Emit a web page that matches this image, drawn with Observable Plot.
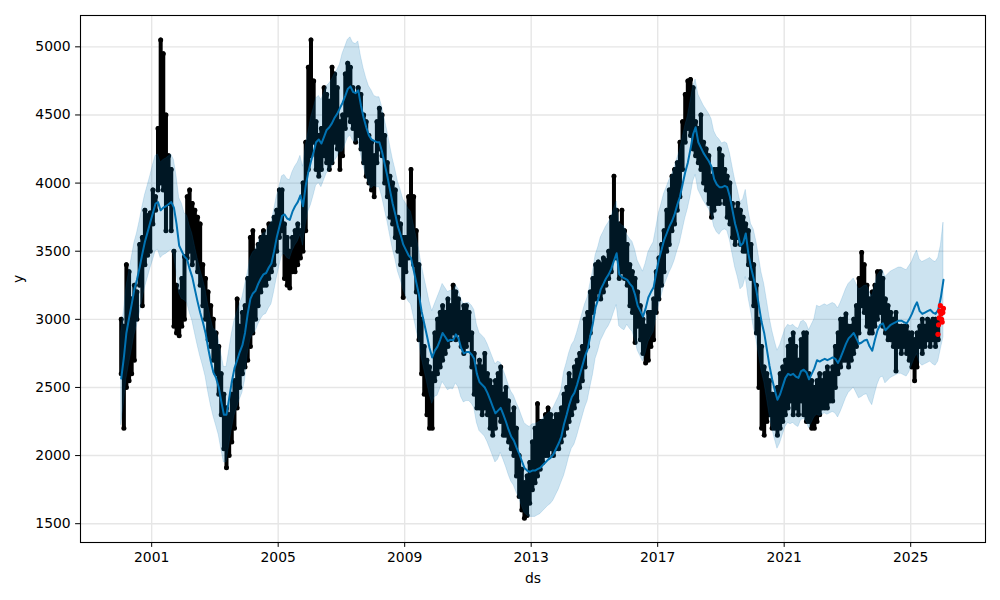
<!DOCTYPE html>
<html><head><meta charset="utf-8">
<script src="https://cdn.jsdelivr.net/npm/d3@7"></script>
<script src="https://cdn.jsdelivr.net/npm/@observablehq/plot@0.6"></script>
<style>body{margin:0;background:#fff;}</style>
</head><body><div id="chart"></div>
<script>
// Monthly series starting January 2000
const startYear = 2000;

// Observed y: lowest and highest daily value seen in each month (Jan 2000 .. Nov 2025)
const obsLow = [
2600,2200,2500,2550,2600,2700,3000,3250,3100,3400,3470,3500,
3700,3800,3950,4000,3950,3650,3850,3650,2950,2900,2880,2950,
3000,3450,3500,3400,3450,3350,3250,3100,3000,2850,2800,2700,
2600,2450,2300,2050,1910,2000,2100,2200,2350,2500,2600,2650,
2700,2800,2900,3000,3100,3200,3250,3250,3300,3350,3400,3500,
3600,3650,3300,3250,3230,3350,3350,3400,3450,3500,3650,4100,
4200,4300,4100,4050,4100,4200,4150,4100,4150,4300,4250,4100,
4200,4400,4500,4450,4400,4300,4350,4250,4150,4050,4000,3950,
3900,4150,4250,4200,4000,3900,3750,3700,3600,3500,3400,3160,
3350,3450,3550,3400,3200,2850,2600,2450,2300,2200,2200,2550,
2600,2650,2700,2750,2800,2850,2900,2850,2900,2800,2750,2800,
2850,2650,2450,2350,2350,2300,2350,2300,2200,2150,2200,2300,
2250,2150,2150,2100,2050,2000,1850,1700,1600,1540,1560,1650,
1750,1800,1850,1900,1950,2000,2000,2050,2000,2050,2050,2100,
2150,2200,2250,2300,2350,2400,2500,2550,2650,2800,2900,3050,
3150,3200,3150,3200,3250,3300,3350,3450,3450,3300,3350,3300,
3250,3100,3050,2830,2950,2850,2750,2680,2700,2800,2850,3050,
3150,3250,3350,3500,3550,3650,3700,3800,3900,4100,4300,4400,
4350,4250,4200,4150,4100,4000,3950,3850,3750,3800,3850,3850,
3900,3850,3750,3700,3600,3550,3600,3550,3500,3500,3400,3300,
3100,2900,2500,2200,2150,2250,2300,2200,2200,2150,2200,2250,
2300,2350,2400,2300,2350,2300,2400,2300,2250,2250,2200,2200,
2250,2300,2350,2350,2350,2400,2400,2500,2600,2650,2700,2700,
2650,2700,2750,2800,2900,3100,3050,2950,2900,2900,2950,3000,
3050,2950,2900,2850,2850,2800,2620,2800,2750,2800,2750,2700,
2650,2550,2650,2800,2750,2800,2850,2800,2850,2800,2850
];
const obsHigh = [
3000,2950,3400,3350,3150,3250,3200,3550,3600,3800,3760,3780,
3950,3900,4400,5050,4950,4500,4200,4100,3500,3250,3200,3300,
3460,3900,3950,3850,3800,3750,3700,3400,3300,3200,3100,3000,
2900,2800,2600,2450,2350,2300,2450,2550,3150,2950,3050,3100,
3300,3600,3650,3500,3550,3600,3650,3600,3700,3700,3750,3800,
3950,3950,3700,3600,3500,3600,3650,3700,3650,4000,4300,4850,
5050,4750,4450,4350,4400,4700,4650,4600,4850,4800,4700,4450,
4500,4800,4880,4850,4700,4650,4700,4650,4500,4450,4350,4300,
4200,4450,4550,4500,4350,4150,4050,4000,3950,3750,3700,3600,
3600,3900,4100,3900,3650,3400,3000,2800,2700,2650,2600,2900,
3000,3050,3100,3050,3150,3100,3250,3200,3150,3050,3100,3100,
3050,2900,2750,2650,2700,2650,2750,2600,2550,2500,2550,2600,
2650,2450,2500,2400,2300,2350,2200,2000,1900,1800,1850,1950,
2100,2200,2380,2250,2250,2300,2350,2300,2250,2300,2300,2350,
2450,2500,2600,2550,2650,2700,2750,2800,3000,3050,3200,3300,
3400,3420,3400,3450,3430,3500,3750,4050,3800,3700,3800,3650,
3550,3400,3350,3300,3200,3100,3000,2950,3050,3050,3150,3350,
3450,3550,3650,3800,3950,4050,4100,4150,4300,4450,4650,4750,
4760,4700,4450,4400,4500,4300,4250,4200,4050,4100,4100,4250,
4200,4100,4050,4000,3850,3800,3850,3800,3750,3700,3650,3550,
3400,3250,3000,2800,2650,2600,2550,2450,2450,2500,2600,2650,
2700,2800,2850,2900,2800,2700,2850,2900,2900,2600,2550,2500,
2550,2600,2550,2600,2650,2600,2650,2800,2900,3000,3000,3040,
2950,2950,3000,3100,3300,3490,3400,3250,3150,3200,3250,3350,
3350,3300,3150,3100,3050,3000,3050,2950,2950,2950,2950,2900,
2900,2850,2900,2950,3000,2950,3000,2980,3000,3000,3000
];

// Forecast yhat, monthly (Jan 2000 .. Jan 2026)
const yhat = [
2565,2720,2900,3010,3110,3220,3290,3380,3480,3570,3640,3710,
3780,3850,3860,3800,3820,3830,3845,3860,3820,3700,3540,3500,
3460,3440,3370,3310,3220,3130,3050,2980,2900,2790,2690,2610,
2570,2500,2400,2300,2300,2420,2540,2640,2700,2760,2810,2900,
3040,3150,3190,3210,3260,3300,3330,3340,3380,3410,3500,3600,
3680,3760,3770,3740,3730,3790,3830,3860,3910,3830,3980,4080,
4160,4230,4300,4320,4290,4340,4390,4410,4440,4480,4510,4550,
4590,4640,4690,4710,4670,4660,4680,4570,4480,4410,4350,4320,
4310,4300,4300,4230,4140,4050,3950,3850,3770,3680,3620,3550,
3510,3470,3450,3360,3270,3180,3060,2970,2880,2790,2720,2770,
2800,2850,2900,2870,2840,2850,2846,2890,2860,2790,2750,2760,
2760,2740,2710,2600,2540,2520,2500,2460,2410,2360,2310,2330,
2350,2300,2250,2190,2140,2110,2060,2015,1960,1910,1890,1880,
1890,1890,1900,1910,1930,1950,1970,1985,2010,2050,2090,2140,
2230,2300,2370,2430,2460,2520,2590,2660,2730,2780,2880,2970,
3090,3150,3220,3260,3300,3330,3370,3430,3485,3330,3310,3300,
3290,3260,3240,3180,3100,3060,3020,3080,3160,3200,3235,3340,
3440,3510,3580,3630,3680,3720,3770,3840,3900,3990,4080,4150,
4250,4360,4410,4300,4260,4220,4190,4160,4120,4030,3990,3970,
3970,3980,3970,3900,3800,3700,3630,3540,3560,3630,3480,3380,
3300,3210,3100,2980,2900,2780,2660,2560,2480,2410,2450,2510,
2570,2600,2590,2600,2580,2570,2620,2630,2610,2560,2600,2640,
2700,2690,2700,2710,2700,2710,2720,2710,2680,2720,2770,2820,
2860,2880,2900,2860,2820,2830,2845,2850,2800,2770,2850,2920,
2960,2970,2920,2940,2960,2970,2980,2990,2990,2980,2970,3000,
3040,3090,3125,3060,3040,3050,3060,3070,3050,3040,3070,3160,3290
];

// Half-width of the uncertainty interval, one value per year (2000 .. 2026)
const bandHalfWidth = [340,350,320,350,300,290,320,360,330,340,360,360,330,340,380,380,330,340,350,320,360,360,400,400,390,380,420];

// Held-out points shown in red
const testDates = ["2025-11-12","2025-11-19","2025-11-26","2025-12-03","2025-12-10","2025-12-17","2025-12-24","2025-12-31","2026-01-07","2026-01-14"];
const testValues = [2890,2960,3010,3060,3100,3040,3000,2980,3050,3080];

const xTickYears = [2001,2005,2009,2013,2017,2021,2025];
const yTicks = [1500,2000,2500,3000,3500,4000,4500,5000];

const monthDate = m => new Date(Date.UTC(startYear, m, 15));
const n = Math.min(obsLow.length, obsHigh.length);
const obs = [];
for (let m = 0; m < n; m++) obs.push({ds: monthDate(m), lo: obsLow[m], hi: obsHigh[m]});
const fc = yhat.map((v, m) => {
  const h = bandHalfWidth[Math.min(bandHalfWidth.length - 1, Math.floor(m / 12))];
  return {ds: monthDate(m), yhat: v, lower: v - h, upper: v + h};
});
const test = testDates.map((d, i) => ({ds: new Date(d + "T00:00:00Z"), y: testValues[i]}));
const xTicks = xTickYears.map(y => new Date(Date.UTC(y, 0, 1)));

const chart = Plot.plot({
  width: 1000, height: 600,
  marginLeft: 80, marginRight: 15, marginTop: 15, marginBottom: 58,
  style: {fontFamily: "DejaVu Sans", fontSize: "13.9px", color: "#000", background: "#fff"},
  x: {type: "utc", domain: [new Date(Date.UTC(1998, 9, 2)), new Date(Date.UTC(2027, 4, 15))],
      ticks: xTicks, tickFormat: d3.utcFormat("%Y"), label: "ds", labelAnchor: "center",
      labelArrow: "none", labelOffset: 40, tickSize: 4.9, tickPadding: 4.9},
  y: {domain: [1362, 5230], ticks: yTicks, tickFormat: d3.format("d"), label: "y", labelAnchor: "center",
      labelArrow: "none", labelOffset: 67, tickSize: 4.9, tickPadding: 4.9},
  marks: [
    Plot.gridX(xTicks, {stroke: "#e6e6e6", strokeOpacity: 1, strokeWidth: 1.4}),
    Plot.gridY(yTicks, {stroke: "#e6e6e6", strokeOpacity: 1, strokeWidth: 1.4}),
    Plot.ruleX(obs, {x: "ds", y1: "lo", y2: "hi", stroke: "#000", strokeWidth: 4, strokeLinecap: "round"}),
    Plot.dot(obs, {x: "ds", y: "lo", r: 2.5, fill: "#000", stroke: "none"}),
    Plot.dot(obs, {x: "ds", y: "hi", r: 2.5, fill: "#000", stroke: "none"}),
    Plot.lineY(fc, {x: "ds", y: "yhat", stroke: "#0072B2", strokeWidth: 2}),
    Plot.areaY(fc, {x: "ds", y1: "lower", y2: "upper", fill: "#0072B2", fillOpacity: 0.2,
                    stroke: "#0072B2", strokeOpacity: 0.15, strokeWidth: 1}),
    Plot.dot(test, {x: "ds", y: "y", r: 2.6, fill: "#ff0000", stroke: "none"}),
    Plot.frame({stroke: "#000", strokeWidth: 1.1})
  ]
});
document.getElementById("chart").appendChild(chart);
</script>
</body></html>
